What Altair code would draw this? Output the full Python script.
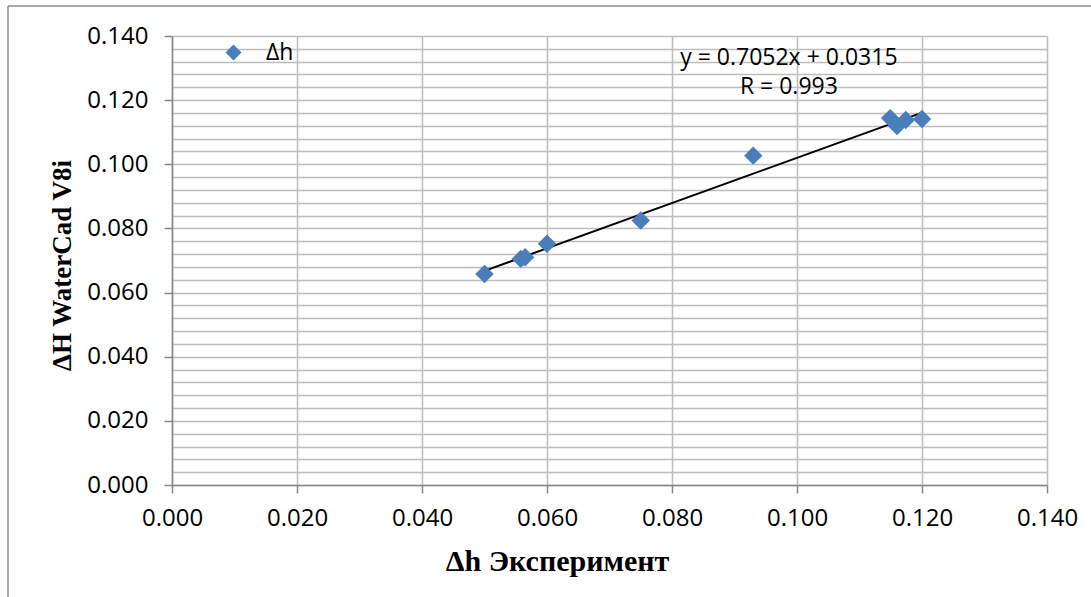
import altair as alt
import pandas as pd

# Data
x_exp = [0.0500, 0.0558, 0.0565, 0.0600, 0.0750, 0.0930, 0.1149, 0.1160, 0.1174, 0.1200]
y_wc = [0.0658, 0.0705, 0.0710, 0.0752, 0.0825, 0.1027, 0.1144, 0.1119, 0.1138, 0.1141]
series_name = "Δh"

# Trend line (from the equation shown on the chart)
slope = 0.7052
intercept = 0.0315
eq_lines = ["y = 0.7052x + 0.0315", "R = 0.993"]
eq_x = [0.0987, 0.0987]
eq_y = [0.1331, 0.1241]

x_ticks = [0.0, 0.02, 0.04, 0.06, 0.08, 0.10, 0.12, 0.14]
y_ticks = [round(i * 0.004, 3) for i in range(36)]

BLUE = "#4a7ebb"
GRID = "#bdbdbd"
AXIS = "#868686"
SANS = "Open Sans"
SERIF = "Liberation Serif"

df = pd.DataFrame({"x": x_exp, "y": y_wc, "series": [series_name] * len(x_exp)})
xmin, xmax = min(x_exp), max(x_exp)
df_line = pd.DataFrame({"x": [xmin, xmax], "y": [slope * xmin + intercept, slope * xmax + intercept]})
df_text = pd.DataFrame({"x": eq_x, "y": eq_y, "t": eq_lines})

major = "round(datum.value*1000) % 20 == 0"

x_enc = alt.X(
    "x:Q",
    scale=alt.Scale(domain=[0, 0.14], nice=False, zero=False),
    axis=alt.Axis(
        values=x_ticks, tickCount=20, format=".3f", labelFlush=False, labelOverlap=False,
        tickSize=8, tickColor=AXIS, tickWidth=1.5,
        domainColor=AXIS, domainWidth=1.5,
        gridColor=GRID, gridWidth=1.5,
        labelFont=SANS, labelFontSize=24, labelColor="black", labelPadding=13,
        title="Δh Эксперимент", titleFont=SERIF, titleFontWeight="bold", titleFontSize=30,
        titleColor="black", titleX=385, titleY=76, titleBaseline="middle", titleAlign="center",
    ),
)
y_enc = alt.Y(
    "y:Q",
    scale=alt.Scale(domain=[0, 0.14], nice=False, zero=False),
    axis=alt.Axis(
        values=y_ticks, tickCount=60,
        labelExpr=f"{major} ? format(datum.value, '.3f') : ''",
        labelFlush=False, labelOverlap=False,
        tickSize=8, tickColor=AXIS, tickWidth=1.5,
        tickOpacity={"condition": {"test": major, "value": 1}, "value": 0},
        domainColor=AXIS, domainWidth=1.5,
        gridColor=GRID, gridWidth=1.5,
        labelFont=SANS, labelFontSize=24, labelColor="black", labelPadding=16,
        title="ΔH WaterCad V8i", titleFont=SERIF, titleFontWeight="bold", titleFontSize=27,
        titleColor="black", titleX=-110, titleY=229, titleAngle=270,
        titleBaseline="middle", titleAlign="center",
    ),
)

points = alt.Chart(df).mark_point(shape="diamond", filled=True, size=340, opacity=1).encode(
    x=x_enc,
    y=y_enc,
    color=alt.Color(
        "series:N",
        scale=alt.Scale(range=[BLUE]),
        legend=alt.Legend(
            title=None, orient="none", legendX=50, legendY=5, padding=0,
            symbolType="diamond", symbolSize=256, symbolStrokeWidth=0,
            labelFont=SANS, labelFontSize=23, labelColor="black", labelOffset=21,
        ),
    ),
)

trend = alt.Chart(df_line).mark_line(color="black", strokeWidth=2).encode(x="x:Q", y="y:Q")

eq = alt.Chart(df_text).mark_text(font=SANS, fontSize=23, color="black", align="center", baseline="middle").encode(
    x="x:Q", y="y:Q", text="t:N"
)

one = pd.DataFrame({"a": [0]})
border_left = alt.Chart(one).mark_rule(color="#8c8c8c", strokeWidth=1.5, clip=False).encode(
    x=alt.value(-164), y=alt.value(-30), y2=alt.value(600)
)
border_top = alt.Chart(one).mark_rule(color="#8c8c8c", strokeWidth=1.5, clip=False).encode(
    x=alt.value(-164), x2=alt.value(940), y=alt.value(-30)
)

chart = alt.layer(trend, points, eq, border_left, border_top).properties(
    width=875, height=449,
    autosize=alt.AutoSizeParams(type="none"),
    padding={"left": 172, "top": 36, "right": 44, "bottom": 112},
    background="white",
).configure_view(stroke="transparent")

chart.save("out.html", embed_options={"renderer": "svg", "actions": False})
